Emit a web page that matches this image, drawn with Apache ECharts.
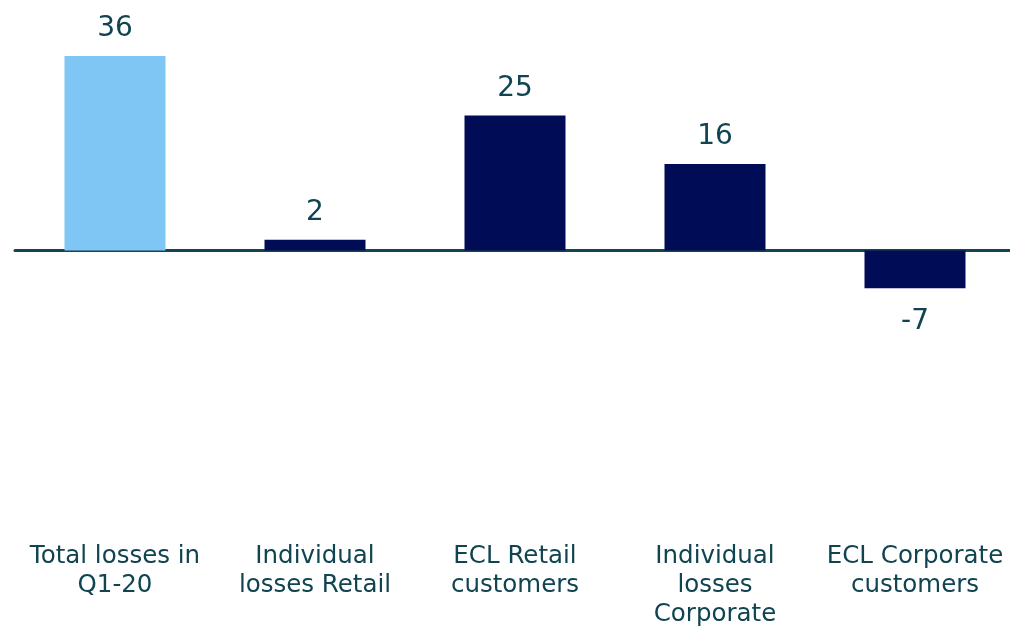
<!DOCTYPE html>
<html>
<head>
<meta charset="utf-8">
<style>
  html, body { margin: 0; padding: 0; background: #ffffff; }
  #chart { width: 1010px; height: 626px; }
</style>
<script src="https://cdn.jsdelivr.net/npm/echarts@6/dist/echarts.min.js"></script>
</head>
<body>
<div id="chart"></div>
<script>
// Credit loss breakdown, Q1-20
const categories = [
  'Total losses in\nQ1-20',
  'Individual\nlosses Retail',
  'ECL Retail\ncustomers',
  'Individual\nlosses\nCorporate',
  'ECL Corporate\ncustomers'
];
const values = [36, 2, 25, 16, -7];
const barColors = ['#80c6f5', '#000c55', '#000c55', '#000c55', '#000c55'];

const textColor = '#0f4450';
const lineColor = '#124653';
const fontFamily = '"DejaVu Sans", Verdana, sans-serif';

const chart = echarts.init(document.getElementById('chart'));
chart.setOption({
  animation: false,
  backgroundColor: '#ffffff',
  grid: { left: 15, width: 1000, top: 34.5, height: 486, outerBoundsMode: 'none', containLabel: false },
  xAxis: [
    {
      type: 'category',
      data: categories,
      position: 'bottom',
      axisLine: { show: false, onZero: false },
      axisTick: { show: false },
      splitLine: { show: false },
      axisLabel: {
        interval: 0,
        margin: 22,
        color: textColor,
        fontFamily: fontFamily,
        fontSize: 24.5,
        lineHeight: 29,
        align: 'center'
      }
    },
    {
      type: 'category',
      data: categories,
      position: 'top',
      axisLine: { show: true, onZero: true, lineStyle: { color: lineColor, width: 3 } },
      axisTick: { show: false },
      axisLabel: { show: false },
      splitLine: { show: false }
    }
  ],
  yAxis: {
    type: 'value',
    min: -50,
    max: 40,
    show: false,
    splitLine: { show: false }
  },
  series: [
    {
      type: 'bar',
      xAxisIndex: 0,
      barWidth: 101,
      data: values.map((v, i) => ({
        value: v,
        itemStyle: { color: barColors[i] },
        label: v < 0 ? { position: 'bottom', distance: 19 } : { position: 'top', distance: 13 }
      })),
      label: {
        show: true,
        color: textColor,
        fontFamily: fontFamily,
        fontSize: 28
      },
      z: 1
    }
  ]
});
</script>
</body>
</html>
